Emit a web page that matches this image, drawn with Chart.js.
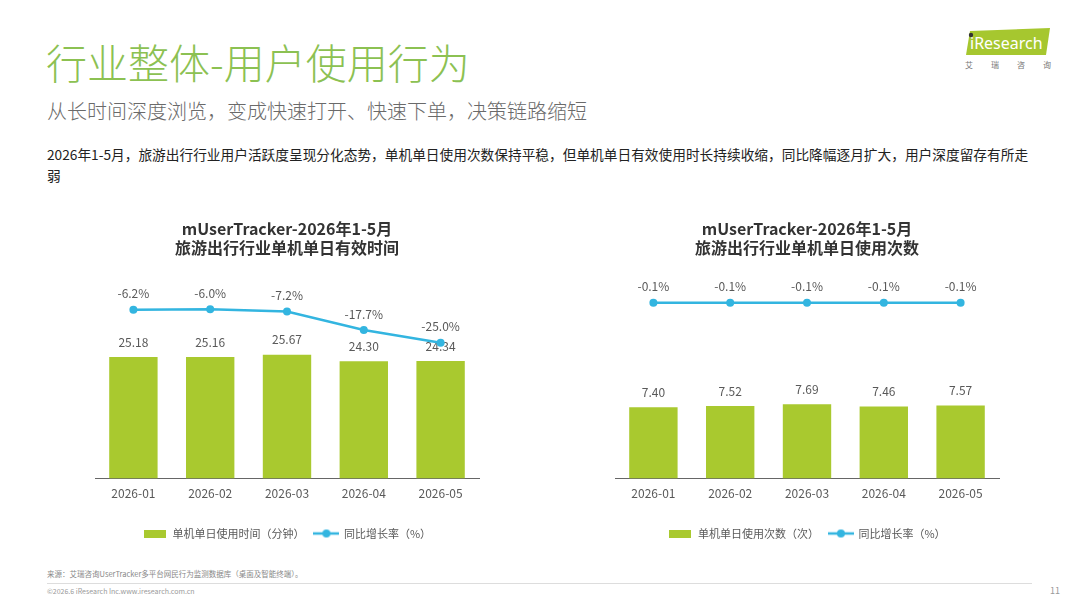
<!DOCTYPE html>
<html>
<head>
<meta charset="utf-8">
<script src="https://cdn.jsdelivr.net/npm/chart.js@4.4.0/dist/chart.umd.min.js"></script>
<style>
  body { margin: 0; width: 1080px; height: 608px; background: #fff; position: relative; overflow: hidden;
         font-family: "Noto Sans CJK SC", "Noto Sans", sans-serif; }
  .abs { position: absolute; white-space: nowrap; }
  #title { left: 46px; top: 35px; font-size: 41px; line-height: 52px; color: #8cc152; font-weight: 300; }
  #subtitle { left: 47px; top: 98px; font-size: 20px; line-height: 26px; color: #6a6a6a; font-weight: 300; }
  #desc { left: 47px; top: 144px; font-size: 13.7px; line-height: 21px; color: #222; }
  #logo { left: 966px; top: 28px; width: 84px; height: 27px; }
  #logoSub { left: 965px; top: 59px; font-size: 8px; color: #777; letter-spacing: 18px; }
  #source { left: 47px; top: 568px; font-size: 7.5px; color: #888; }
  #rule { left: 47px; top: 583px; width: 985px; height: 1px; background: #ddd; }
  #copy { left: 47px; top: 586px; font-size: 7px; color: #999; }
  #page { left: 1050px; top: 584px; font-size: 9px; color: #999; }
  canvas { position: absolute; }
</style>
</head>
<body>
<div id="title" class="abs">行业整体-用户使用行为</div>
<div id="subtitle" class="abs">从长时间深度浏览，变成快速打开、快速下单，决策链路缩短</div>
<div id="desc" class="abs">2026年1-5月，旅游出行行业用户活跃度呈现分化态势，单机单日使用次数保持平稳，但单机单日有效使用时长持续收缩，同比降幅逐月扩大，用户深度留存有所走<br>弱</div>
<svg id="logo" class="abs" viewBox="0 0 84 27">
  <polygon points="4,3 84,0 80,27 0,27" fill="#a6c72f"/>
  <circle cx="5" cy="7" r="2.2" fill="#333"/>
  <text x="4" y="21" font-size="16" fill="#fff" font-family="Noto Sans, sans-serif">iResearch</text>
</svg>
<div id="logoSub" class="abs">艾瑞咨询</div>
<div id="source" class="abs">来源：艾瑞咨询UserTracker多平台网民行为监测数据库（桌面及智能终端）。</div>
<div id="rule" class="abs"></div>
<div id="copy" class="abs">©2026.6 iResearch Inc.www.iresearch.com.cn</div>
<div id="page" class="abs">11</div>

<canvas id="timeChart" style="left:85px;top:210px;" width="405" height="345"></canvas>
<canvas id="countChart" style="left:598px;top:210px;" width="405" height="345"></canvas>

<script>
var months = ['2026-01', '2026-02', '2026-03', '2026-04', '2026-05'];
var dailyMinutes = [25.18, 25.16, 25.67, 24.30, 24.34];
var minutesGrowth = [-6.2, -6.0, -7.2, -17.7, -25.0];
var dailyVisits = [7.40, 7.52, 7.69, 7.46, 7.57];
var visitsGrowth = [-0.1, -0.1, -0.1, -0.1, -0.1];

var GREEN = '#a9c92f';
var BLUE = '#33b5e0';
var FONT = '"Noto Sans CJK SC", "Noto Sans", sans-serif';

function legendSwatch(kind) {
    var c = document.createElement('canvas');
    var ctx = c.getContext('2d');
    if (kind === 'bar') {
        c.width = 22; c.height = 8;
        ctx.fillStyle = GREEN;
        ctx.fillRect(0, 0, 22, 8);
    } else {
        c.width = 26; c.height = 10;
        ctx.strokeStyle = BLUE;
        ctx.lineWidth = 2.5;
        ctx.beginPath();
        ctx.moveTo(0, 5); ctx.lineTo(26, 5);
        ctx.stroke();
        ctx.fillStyle = BLUE;
        ctx.beginPath();
        ctx.arc(13, 5, 4, 0, Math.PI * 2);
        ctx.fill();
    }
    return c;
}

// value labels: bars under the line, line labels on top
var valueLabels = {
    id: 'valueLabels',
    beforeDatasetsDraw: function (chart) {
        drawLabels(chart, 'bar', 15, function (v) { return v.toFixed(2); });
    },
    afterDatasetsDraw: function (chart) {
        drawLabels(chart, 'line', 16, function (v) { return v.toFixed(1) + '%'; });
    }
};

function drawLabels(chart, type, gap, fmt) {
    var ctx = chart.ctx;
    ctx.save();
    ctx.font = '12px ' + FONT;
    ctx.fillStyle = '#595959';
    ctx.textAlign = 'center';
    ctx.textBaseline = 'middle';
    chart.data.datasets.forEach(function (ds, i) {
        if (ds.type !== type) return;
        chart.getDatasetMeta(i).data.forEach(function (el, j) {
            ctx.fillText(fmt(ds.data[j]), el.x, el.y - gap);
        });
    });
    ctx.restore();
}

function makeChart(id, titleLines, bars, barLabel, barMax, growth, lineMin, lineMax, padL, padR) {
    return new Chart(document.getElementById(id), {
        data: {
            labels: months,
            datasets: [{
                type: 'bar',
                label: barLabel,
                data: bars,
                backgroundColor: GREEN,
                categoryPercentage: 1,
                barPercentage: 0.63,
                yAxisID: 'y'
            }, {
                type: 'line',
                label: '同比增长率（%）',
                data: growth,
                borderColor: BLUE,
                backgroundColor: BLUE,
                borderWidth: 2.5,
                pointRadius: 4,
                pointBackgroundColor: BLUE,
                pointBorderWidth: 0,
                tension: 0,
                yAxisID: 'y2'
            }]
        },
        options: {
            responsive: false,
            animation: false,
            layout: { padding: { left: padL, right: padR, bottom: 6 } },
            scales: {
                x: {
                    grid: { display: false },
                    border: { display: true, color: '#666', width: 1 },
                    ticks: { color: '#595959', font: { size: 12, family: FONT }, padding: 0 },
                    afterFit: function (scale) { scale.height += 17; }
                },
                y: { display: false, min: 0, max: barMax },
                y2: { display: false, min: lineMin, max: lineMax }
            },
            plugins: {
                title: {
                    display: true,
                    text: titleLines,
                    color: '#333',
                    font: { size: 16, weight: 'bold', family: FONT, lineHeight: 1.2 },
                    padding: { top: 9, bottom: 15 }
                },
                legend: {
                    position: 'bottom',
                    labels: {
                        usePointStyle: true,
                        pointStyleWidth: 24,
                        boxHeight: 11,
                        color: '#595959',
                        font: { size: 11, family: FONT },
                        padding: 10,
                        generateLabels: function (chart) {
                            return chart.data.datasets.map(function (ds, i) {
                                return {
                                    text: ds.label,
                                    pointStyle: i === 0 ? legendSwatch('bar') : legendSwatch('line'),
                                    fillStyle: ds.backgroundColor,
                                    strokeStyle: ds.backgroundColor,
                                    lineWidth: 0,
                                    fontColor: '#595959',
                                    datasetIndex: i
                                };
                            });
                        }
                    }
                },
                tooltip: { enabled: false }
            }
        },
        plugins: [valueLabels]
    });
}

makeChart('timeChart', ['mUserTracker-2026年1-5月', '旅游出行行业单机单日有效时间'],
    dailyMinutes, '单机单日使用时间（分钟）', 42.7, minutesGrowth, -101.9, 14.9, 10, 11);
makeChart('countChart', ['mUserTracker-2026年1-5月', '旅游出行行业单机单日使用次数'],
    dailyVisits, '单机单日使用次数（次）', 21.35, visitsGrowth, -6.5, 1, 17, 4);
</script>
</body>
</html>
